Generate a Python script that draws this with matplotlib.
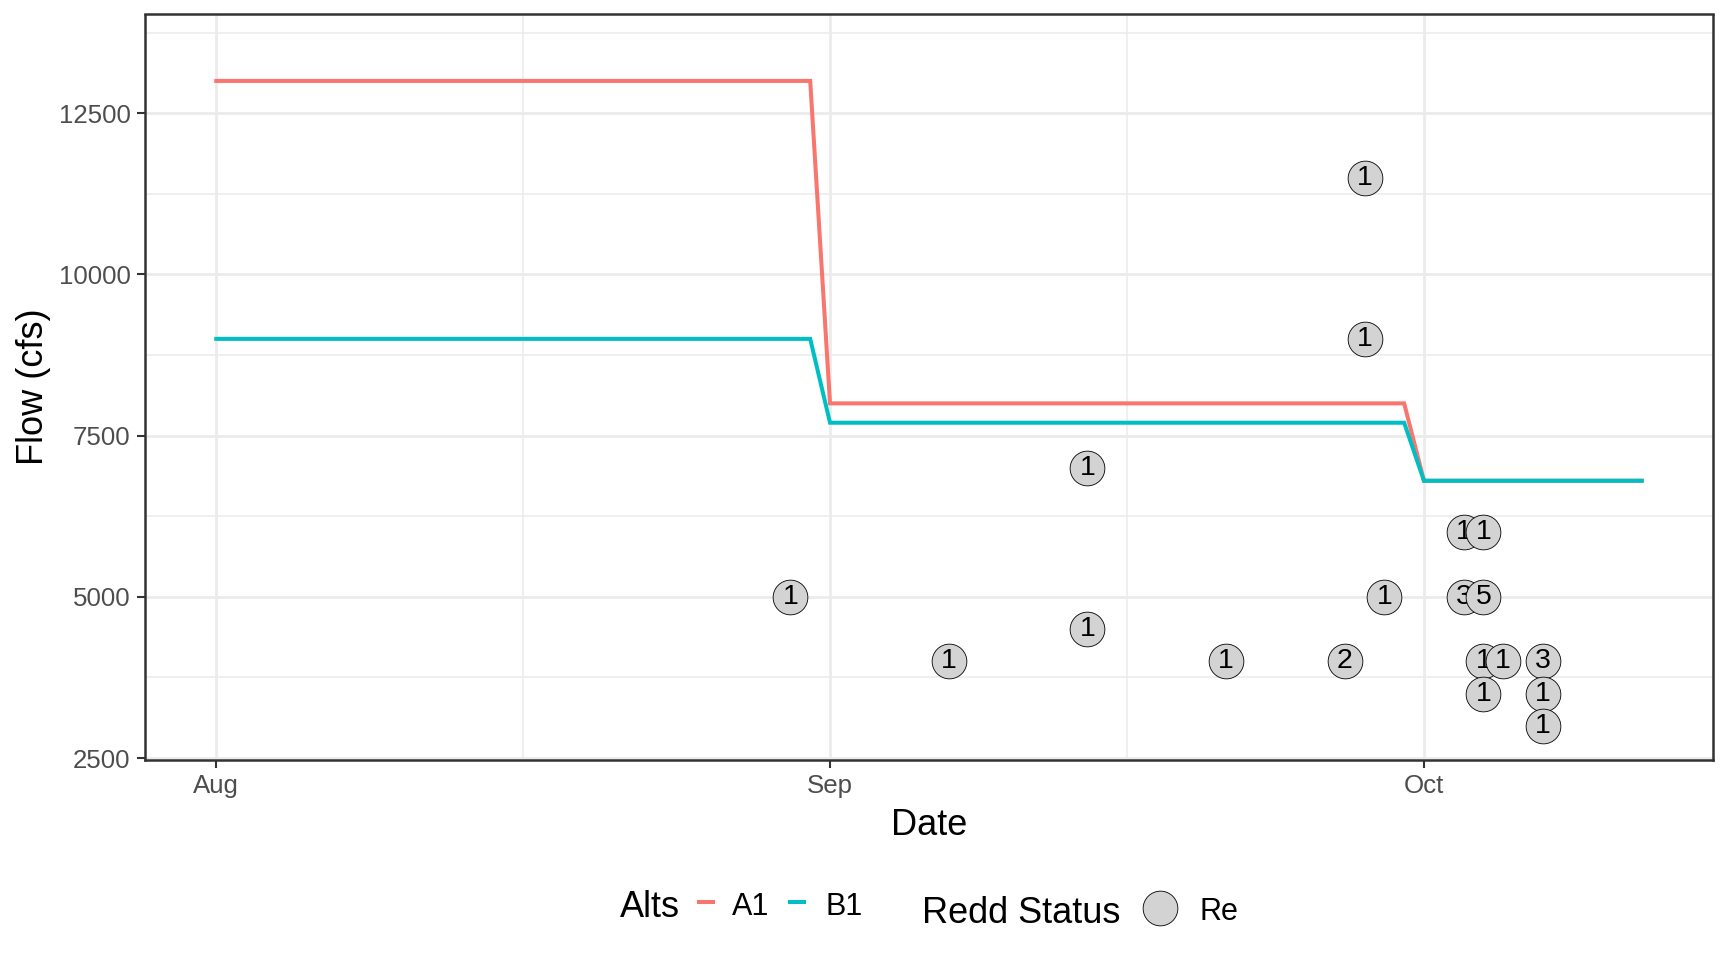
import numpy as np
import pandas as pd
import matplotlib
matplotlib.use('Agg')
import matplotlib.pyplot as plt
import matplotlib.dates as mdates
from matplotlib.lines import Line2D

plt.rcParams['font.family'] = ['Liberation Sans', 'DejaVu Sans']

# flow alternatives
flow_dates = pd.to_datetime(['2023-08-01', '2023-08-31', '2023-09-01',
                             '2023-09-30', '2023-10-01', '2023-10-12'])
flow_a1 = [13000, 13000, 8000, 8000, 6800, 6800]
flow_b1 = [9000, 9000, 7700, 7700, 6800, 6800]
alt_names = ['A1', 'B1']
alt_colors = ['#F8766D', '#00BFC4']

# redd observations (date, flow, count)
redd_dates = pd.to_datetime([
    '2023-08-30', '2023-09-07', '2023-09-14', '2023-09-14', '2023-09-21',
    '2023-09-27', '2023-09-28', '2023-09-28', '2023-09-29',
    '2023-10-03', '2023-10-03', '2023-10-04', '2023-10-04', '2023-10-04',
    '2023-10-04', '2023-10-05', '2023-10-07', '2023-10-07', '2023-10-07'])
redd_flow = [5000, 4000, 7000, 4500, 4000,
             4000, 11500, 9000, 5000,
             6000, 5000, 6000, 5000, 4000,
             3500, 4000, 4000, 3500, 3000]
redd_count = [1, 1, 1, 1, 1,
              2, 1, 1, 1,
              1, 3, 1, 5, 1,
              1, 1, 3, 1, 1]
redd_status = 'Re'

W, H = 1728, 960
fig = plt.figure(figsize=(W / 100, H / 100), dpi=100)
ax = fig.add_axes([145 / W, 1 - 760 / H, (1713 - 145) / W, (760 - 14.5) / H])

grid_col = '#EBEBEB'
dark = '#333333'

# lines
for vals, name, col in zip([flow_a1, flow_b1], alt_names, alt_colors):
    ax.plot(flow_dates, vals, color=col, lw=2.9, solid_joinstyle='miter', zorder=3)

# points with labels, drawn one after another so later ones overlap earlier
for i, (d, f, c) in enumerate(zip(redd_dates, redd_flow, redd_count)):
    z = 4 + i * 0.01
    ax.plot([d], [f], marker='o', ms=25, mfc='#D3D3D3', mec='black', mew=0.6,
            ls='none', zorder=z)
    ax.text(d, f, str(c), ha='center', va='center', fontsize=20.5, color='black',
            zorder=z + 0.005)

# limits (5% expansion on x)
xmin, xmax = flow_dates.min(), flow_dates.max()
span = xmax - xmin

# ticks and grid
ax.xaxis.set_major_locator(mdates.MonthLocator())
ax.xaxis.set_major_formatter(mdates.DateFormatter('%b'))
majors = mdates.date2num(pd.to_datetime(['2023-07-01', '2023-08-01', '2023-09-01', '2023-10-01', '2023-11-01']))
ax.set_xticks((majors[:-1] + majors[1:]) / 2, minor=True)
ax.set_yticks([2500, 5000, 7500, 10000, 12500])
ax.set_yticks([3750, 6250, 8750, 11250, 13750], minor=True)
ax.set_xlim(mdates.date2num(xmin - span * 0.05), mdates.date2num(xmax + span * 0.05))
ax.set_ylim(2470, 14030)

ax.grid(True, which='major', color=grid_col, lw=2.0, zorder=0)
ax.grid(True, which='minor', color=grid_col, lw=1.1, zorder=0)
ax.set_axisbelow(True)
ax.tick_params(which='major', length=5.8, width=1.5, color=dark,
               labelsize=18.6, labelcolor='#4D4D4D', pad=4.6)
ax.tick_params(which='minor', length=0)
for s in ax.spines.values():
    s.set_color(dark)
    s.set_linewidth(1.8)
    s.set_zorder(10)

# axis titles
fig.text(929 / W, 1 - 835 / H, 'Date', fontsize=26, ha='center', va='baseline')
fig.text(43 / W, 1 - 387 / H, 'Flow (cfs)', fontsize=26, rotation=90,
         ha='center', va='baseline', rotation_mode='anchor')

# legend at bottom
fig.text(620 / W, 1 - 917 / H, 'Alts', fontsize=26, ha='left', va='baseline')
key_x = [(697, 715), (788, 806)]
lab_x = [732, 825]
for (x0, x1), lx, name, col in zip(key_x, lab_x, alt_names, alt_colors):
    fig.add_artist(Line2D([x0 / W, x1 / W], [1 - 902 / H, 1 - 902 / H],
                          transform=fig.transFigure, color=col, lw=2.9,
                          solid_capstyle='butt'))
    fig.text(lx / W, 1 - 915 / H, name, fontsize=22, ha='left', va='baseline')

fig.text(922 / W, 1 - 923 / H, 'Redd Status', fontsize=26, ha='left', va='baseline')
fig.add_artist(Line2D([1159.5 / W], [1 - 908 / H], transform=fig.transFigure,
                      marker='o', ms=25, mfc='#D3D3D3', mec='black', mew=0.6,
                      ls='none'))
fig.text(1199 / W, 1 - 920 / H, redd_status, fontsize=22, ha='left', va='baseline')

fig.savefig('out.png', dpi=100, facecolor='white')
